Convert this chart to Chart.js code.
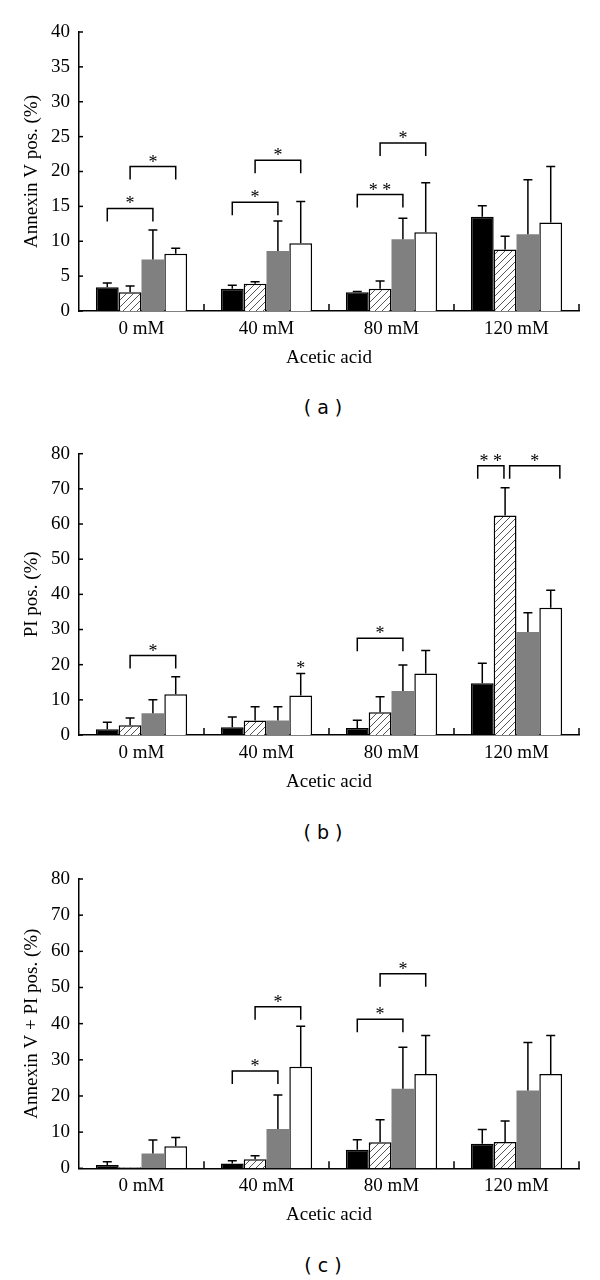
<!DOCTYPE html>
<html><head><meta charset="utf-8">
<script src="https://cdn.jsdelivr.net/npm/chart.js@4.4.0/dist/chart.umd.min.js"></script>
<style>
html,body{margin:0;padding:0;background:#fff;width:600px;height:1280px;overflow:hidden;position:relative}
canvas{position:absolute;left:0}
.lab{position:absolute;left:0;width:646px;text-align:center;font-family:"DejaVu Sans";font-size:19px;color:#000;line-height:20px;white-space:pre}
</style></head><body>
<canvas id="ca" style="top:0px" width="600" height="380"></canvas>
<div class="lab" style="top:397px">( a )</div>
<canvas id="cb" style="top:425px" width="600" height="380"></canvas>
<div class="lab" style="top:822px">( b )</div>
<canvas id="cc" style="top:850px" width="600" height="390"></canvas>
<div class="lab" style="top:1255px">( c )</div>
<script>
// ---- data ----
const categories = ['0 mM', '40 mM', '80 mM', '120 mM'];
const xTitle = 'Acetic acid';

// (a) Annexin V pos. (%)
const annexinBlack   = [3.4, 3.2, 2.7, 13.5];
const annexinHatched = [2.7, 3.9, 3.2, 8.8];
const annexinGray    = [7.4, 8.6, 10.3, 11.0];
const annexinWhite   = [8.2, 9.7, 11.3, 12.7];
const annexinBlackErr   = [0.6, 0.5, 0.1, 1.6];
const annexinHatchedErr = [0.9, 0.3, 1.1, 1.9];
const annexinGrayErr    = [4.2, 4.3, 3.0, 7.8];
const annexinWhiteErr   = [0.8, 6.0, 7.1, 8.0];
// [category, from bar, to bar, bracket height, label]
const annexinBrackets = [[0,0,2,14.7,'*'],[0,1,3,20.7,'*'],[1,0,2,15.6,'*'],[1,1,3,21.6,'*'],[2,0,2,16.7,'* *'],[2,1,3,24.1,'*']];
const annexinStars = [];

// (b) PI pos. (%)
const piBlack   = [1.6, 2.2, 2.0, 14.7];
const piHatched = [2.8, 4.1, 6.5, 62.4];
const piGray    = [6.2, 4.1, 12.5, 29.3];
const piWhite   = [11.6, 11.2, 17.5, 36.2];
const piBlackErr   = [2.0, 2.9, 2.2, 5.7];
const piHatchedErr = [2.0, 3.9, 4.4, 7.9];
const piGrayErr    = [3.8, 3.9, 7.4, 5.5];
const piWhiteErr   = [5.0, 6.3, 6.5, 5.0];
const piBrackets = [[0,1,3,22.6,'*'],[2,0,2,27.5,'*'],[3,-0.2,0.95,76.6,'* *'],[3,1.2,3.4,76.6,'*']];
const piStars = [[1,3,17.6,'*']];

// (c) Annexin V + PI pos. (%)
const bothBlack   = [0.9, 1.3, 5.1, 6.8];
const bothHatched = [0.3, 2.5, 7.2, 7.3];
const bothGray    = [4.1, 10.9, 22.0, 21.5];
const bothWhite   = [6.1, 28.1, 26.1, 26.1];
const bothBlackErr   = [0.9, 0.8, 2.8, 3.9];
const bothHatchedErr = [0, 1.0, 6.2, 5.8];
const bothGrayErr    = [3.7, 9.4, 11.5, 13.3];
const bothWhiteErr   = [2.4, 11.2, 10.6, 10.6];
const bothBrackets = [[1,0,2,26.9,'*'],[1,1,3,44.7,'*'],[2,0,2,41.2,'*'],[2,1,3,53.8,'*']];
const bothStars = [];

// ---- rendering ----
const SERIF = '"Liberation Serif", "Times New Roman", serif';
const FS = 19;

function hatchPattern(ctx) {
  const t = document.createElement('canvas');
  t.width = 7; t.height = 7;
  const g = t.getContext('2d');
  g.fillStyle = '#fff'; g.fillRect(0,0,7,7);
  g.strokeStyle = '#555'; g.lineWidth = 1;
  g.beginPath();
  g.moveTo(-1,8); g.lineTo(8,-1);
  g.moveTo(-1,1); g.lineTo(1,-1);
  g.moveTo(6,8); g.lineTo(8,6);
  g.stroke();
  return ctx.createPattern(t, 'repeat');
}

const extras = {};

function posX(chart, cat, p) {
  const x0 = chart.getDatasetMeta(0).data[cat].x;
  const x1 = chart.getDatasetMeta(1).data[cat].x;
  return x0 + p * (x1 - x0);
}

const decor = {
  id: 'decor',
  afterDatasetsDraw(chart) {
    const {ctx, chartArea, scales: {x, y}} = chart;
    const ex = extras[chart.canvas.id];
    ctx.save();
    ctx.strokeStyle = '#000'; ctx.lineWidth = 1.5; ctx.lineCap = 'butt';
    // error bars
    chart.data.datasets.forEach((ds, di) => {
      chart.getDatasetMeta(di).data.forEach((bar, i) => {
        const e = ds.err[i];
        if (!e) return;
        const yTop = y.getPixelForValue(ds.data[i] + e);
        ctx.beginPath();
        ctx.moveTo(bar.x, bar.y); ctx.lineTo(bar.x, yTop);
        ctx.moveTo(bar.x - 4.5, yTop); ctx.lineTo(bar.x + 4.5, yTop);
        ctx.stroke();
      });
    });
    // category boundary ticks (inward)
    const n = chart.data.labels.length;
    for (let i = 0; i < n; i++) {
      const px = x.getPixelForValue(i + 0.5);
      ctx.beginPath(); ctx.moveTo(px, chartArea.bottom); ctx.lineTo(px, chartArea.bottom - 7); ctx.stroke();
    }
    // y ticks (inward)
    y.ticks.forEach(t => {
      const py = y.getPixelForValue(t.value);
      ctx.beginPath(); ctx.moveTo(chartArea.left, py); ctx.lineTo(chartArea.left + 4, py); ctx.stroke();
    });
    // significance brackets
    ctx.fillStyle = '#000';
    ctx.font = '18px ' + SERIF;
    ctx.textAlign = 'center'; ctx.textBaseline = 'alphabetic';
    ex.brackets.forEach(([cat, p0, p1, v, label]) => {
      const xa = posX(chart, cat, p0), xb = posX(chart, cat, p1);
      const py = y.getPixelForValue(v);
      ctx.beginPath();
      ctx.moveTo(xa, py + 13); ctx.lineTo(xa, py); ctx.lineTo(xb, py); ctx.lineTo(xb, py + 13);
      ctx.stroke();
      ctx.fillText(label, (xa + xb) / 2, py + 1);
    });
    ex.stars.forEach(([cat, p, v, label]) => {
      ctx.fillText(label, posX(chart, cat, p), y.getPixelForValue(v) + 1);
    });
    ctx.restore();
  }
};

function makeChart(id, cfg) {
  const canvas = document.getElementById(id);
  const ctx = canvas.getContext('2d');
  const H = canvas.height;
  const xH = H - cfg.bottom;
  const half = FS * 1.2 / 2;
  extras[id] = {brackets: cfg.brackets, stars: cfg.stars};
  const font = {family: SERIF, size: FS, lineHeight: 1.2};
  new Chart(canvas, {
    type: 'bar',
    data: {
      labels: categories,
      datasets: [
        {data: cfg.values[0], err: cfg.errors[0], backgroundColor: '#000', borderColor: '#000', borderWidth: 1.5},
        {data: cfg.values[1], err: cfg.errors[1], backgroundColor: hatchPattern(ctx), borderColor: '#000', borderWidth: 1.5},
        {data: cfg.values[2], err: cfg.errors[2], backgroundColor: '#808080', borderColor: '#808080', borderWidth: 0},
        {data: cfg.values[3], err: cfg.errors[3], backgroundColor: '#fff', borderColor: '#000', borderWidth: 1.5}
      ]
    },
    options: {
      responsive: false, animation: false, devicePixelRatio: 1,
      layout: {padding: {top: cfg.top, left: 0, right: 21, bottom: 0}},
      plugins: {legend: {display: false}, tooltip: {enabled: false}},
      datasets: {bar: {categoryPercentage: 0.73, barPercentage: 1, borderSkipped: 'start'}},
      scales: {
        x: {
          grid: {display: false, drawTicks: false},
          border: {display: true, color: '#000', width: 1.5},
          ticks: {color: '#000', font, padding: 6.5, maxRotation: 0, autoSkip: false},
          title: {display: true, text: xTitle, color: '#000', font, padding: {top: 0, bottom: xH - 47 - half}},
          afterFit(s) { s.height = xH; s.paddingLeft = 0; s.paddingRight = 0; }
        },
        y: {
          min: 0, max: cfg.max,
          grid: {display: false, drawTicks: false},
          border: {display: true, color: '#000', width: 1.5},
          ticks: {stepSize: cfg.step, color: '#000', font, padding: 9},
          title: {display: true, text: cfg.ytitle, color: '#000', font, padding: {top: 32 - half, bottom: 0}},
          afterFit(s) { s.width = 79; s.paddingTop = 0; s.paddingBottom = 0; }
        }
      }
    },
    plugins: [decor]
  });
}

makeChart('ca', {
  top: 32, bottom: 311, max: 40, step: 5, ytitle: 'Annexin V pos. (%)',
  values: [annexinBlack, annexinHatched, annexinGray, annexinWhite],
  errors: [annexinBlackErr, annexinHatchedErr, annexinGrayErr, annexinWhiteErr],
  brackets: annexinBrackets, stars: annexinStars
});
makeChart('cb', {
  top: 453.7 - 425, bottom: 735 - 425, max: 80, step: 10, ytitle: 'PI pos. (%)',
  values: [piBlack, piHatched, piGray, piWhite],
  errors: [piBlackErr, piHatchedErr, piGrayErr, piWhiteErr],
  brackets: piBrackets, stars: piStars
});
makeChart('cc', {
  top: 879 - 850, bottom: 1168.3 - 850, max: 80, step: 10, ytitle: 'Annexin V + PI pos. (%)',
  values: [bothBlack, bothHatched, bothGray, bothWhite],
  errors: [bothBlackErr, bothHatchedErr, bothGrayErr, bothWhiteErr],
  brackets: bothBrackets, stars: bothStars
});
</script>
</body></html>
